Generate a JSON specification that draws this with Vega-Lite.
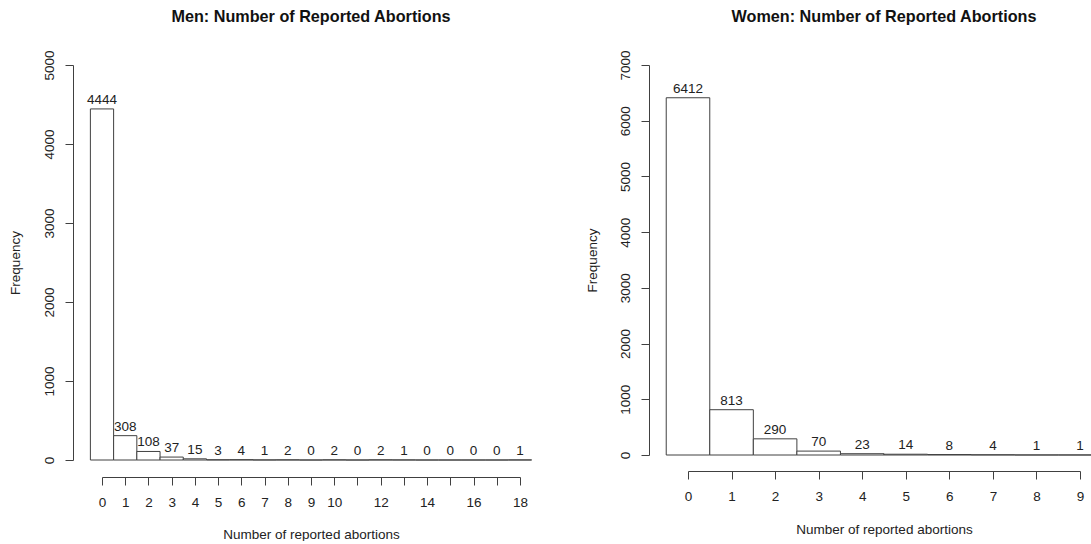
{
  "$schema": "https://vega.github.io/schema/vega-lite/v6.json",
  "autosize": {"type": "pad"},
  "padding": {"left": 8, "top": 8, "right": 0, "bottom": 0},
  "background": "white",
  "bounds": "flush",
  "spacing": 168,
  "datasets": {
    "men": [
      {"abortions": 0, "lo": -0.5, "hi": 0.5, "count": 4444},
      {"abortions": 1, "lo": 0.5, "hi": 1.5, "count": 308},
      {"abortions": 2, "lo": 1.5, "hi": 2.5, "count": 108},
      {"abortions": 3, "lo": 2.5, "hi": 3.5, "count": 37},
      {"abortions": 4, "lo": 3.5, "hi": 4.5, "count": 15},
      {"abortions": 5, "lo": 4.5, "hi": 5.5, "count": 3},
      {"abortions": 6, "lo": 5.5, "hi": 6.5, "count": 4},
      {"abortions": 7, "lo": 6.5, "hi": 7.5, "count": 1},
      {"abortions": 8, "lo": 7.5, "hi": 8.5, "count": 2},
      {"abortions": 9, "lo": 8.5, "hi": 9.5, "count": 0},
      {"abortions": 10, "lo": 9.5, "hi": 10.5, "count": 2},
      {"abortions": 11, "lo": 10.5, "hi": 11.5, "count": 0},
      {"abortions": 12, "lo": 11.5, "hi": 12.5, "count": 2},
      {"abortions": 13, "lo": 12.5, "hi": 13.5, "count": 1},
      {"abortions": 14, "lo": 13.5, "hi": 14.5, "count": 0},
      {"abortions": 15, "lo": 14.5, "hi": 15.5, "count": 0},
      {"abortions": 16, "lo": 15.5, "hi": 16.5, "count": 0},
      {"abortions": 17, "lo": 16.5, "hi": 17.5, "count": 0},
      {"abortions": 18, "lo": 17.5, "hi": 18.5, "count": 1}
    ],
    "women": [
      {"abortions": 0, "lo": -0.5, "hi": 0.5, "count": 6412},
      {"abortions": 1, "lo": 0.5, "hi": 1.5, "count": 813},
      {"abortions": 2, "lo": 1.5, "hi": 2.5, "count": 290},
      {"abortions": 3, "lo": 2.5, "hi": 3.5, "count": 70},
      {"abortions": 4, "lo": 3.5, "hi": 4.5, "count": 23},
      {"abortions": 5, "lo": 4.5, "hi": 5.5, "count": 14},
      {"abortions": 6, "lo": 5.5, "hi": 6.5, "count": 8},
      {"abortions": 7, "lo": 6.5, "hi": 7.5, "count": 4},
      {"abortions": 8, "lo": 7.5, "hi": 8.5, "count": 1},
      {"abortions": 9, "lo": 8.5, "hi": 9.5, "count": 1}
    ]
  },
  "hconcat": [
    {
      "width": 418,
      "height": 395,
      "title": "Men: Number of Reported Abortions",
      "data": {"name": "men"},
      "layer": [
        {
          "mark": {"type": "rect", "fill": "white", "stroke": "#404040", "strokeWidth": 1},
          "encoding": {
            "x": {
              "field": "lo", "type": "quantitative",
              "scale": {"domain": [0, 18], "nice": false, "zero": false},
              "axis": {
                "title": "Number of reported abortions", "format": "d",
                "values": [0, 1, 2, 3, 4, 5, 6, 7, 8, 9, 10, 11, 12, 13, 14, 15, 16, 17, 18],
                "tickCount": 30,
                "labelExpr": "datum.value > 10 && datum.value % 2 == 1 ? '' : datum.label",
                "offset": 17, "labelPadding": 10.5, "titlePadding": 18,
                "labelFlush": false, "labelOverlap": false, "labelBound": false
              }
            },
            "x2": {"field": "hi"},
            "y": {
              "field": "count", "type": "quantitative",
              "scale": {"domain": [0, 5000], "nice": false},
              "axis": {
                "title": "Frequency", "format": "d",
                "values": [0, 1000, 2000, 3000, 4000, 5000],
                "tickCount": 10,
                "offset": 29, "labelAngle": 270, "labelAlign": "center", "labelBaseline": "alphabetic",
                "labelPadding": 11.5, "titlePadding": 20, "labelOverlap": false, "labelFlush": false
              }
            },
            "y2": {"datum": 0}
          }
        },
        {
          "mark": {"type": "text", "dy": -5, "baseline": "alphabetic", "fontSize": 13.5, "color": "#222", "font": "Liberation Sans"},
          "encoding": {
            "x": {"field": "abortions", "type": "quantitative"},
            "y": {"field": "count", "type": "quantitative"},
            "text": {"field": "count", "type": "quantitative"}
          }
        }
      ]
    },
    {
      "width": 392,
      "height": 390,
      "title": "Women: Number of Reported Abortions",
      "data": {"name": "women"},
      "layer": [
        {
          "mark": {"type": "rect", "fill": "white", "stroke": "#404040", "strokeWidth": 1},
          "encoding": {
            "x": {
              "field": "lo", "type": "quantitative",
              "scale": {"domain": [0, 9], "nice": false, "zero": false},
              "axis": {
                "title": "Number of reported abortions", "format": "d",
                "values": [0, 1, 2, 3, 4, 5, 6, 7, 8, 9],
                "tickCount": 20,
                "offset": 16, "labelPadding": 10.5, "titlePadding": 19,
                "labelFlush": false, "labelOverlap": false, "labelBound": false
              }
            },
            "x2": {"field": "hi"},
            "y": {
              "field": "count", "type": "quantitative",
              "scale": {"domain": [0, 7000], "nice": false},
              "axis": {
                "title": "Frequency", "format": "d",
                "values": [0, 1000, 2000, 3000, 4000, 5000, 6000, 7000],
                "tickCount": 10,
                "offset": 39, "labelAngle": 270, "labelAlign": "center", "labelBaseline": "alphabetic",
                "labelPadding": 11.5, "titlePadding": 19, "labelOverlap": false, "labelFlush": false
              }
            },
            "y2": {"datum": 0}
          }
        },
        {
          "mark": {"type": "text", "dy": -5, "baseline": "alphabetic", "fontSize": 13.5, "color": "#222", "font": "Liberation Sans"},
          "encoding": {
            "x": {"field": "abortions", "type": "quantitative"},
            "y": {"field": "count", "type": "quantitative"},
            "text": {"field": "count", "type": "quantitative"}
          }
        }
      ]
    }
  ],
  "resolve": {"scale": {"x": "independent", "y": "independent"}},
  "config": {
    "font": "Liberation Sans",
    "view": {"stroke": null},
    "axis": {
      "grid": false,
      "domainColor": "#404040", "tickColor": "#404040",
      "labelColor": "#222", "titleColor": "#222",
      "labelFont": "Liberation Sans", "titleFont": "Liberation Sans",
      "labelFontSize": 13.5, "titleFontSize": 13.5, "titleFontWeight": "normal",
      "tickSize": 8, "domainWidth": 1, "tickWidth": 1
    },
    "title": {"font": "Liberation Sans", "fontSize": 16.2, "fontWeight": "bold", "color": "#111", "offset": 25}
  }
}
